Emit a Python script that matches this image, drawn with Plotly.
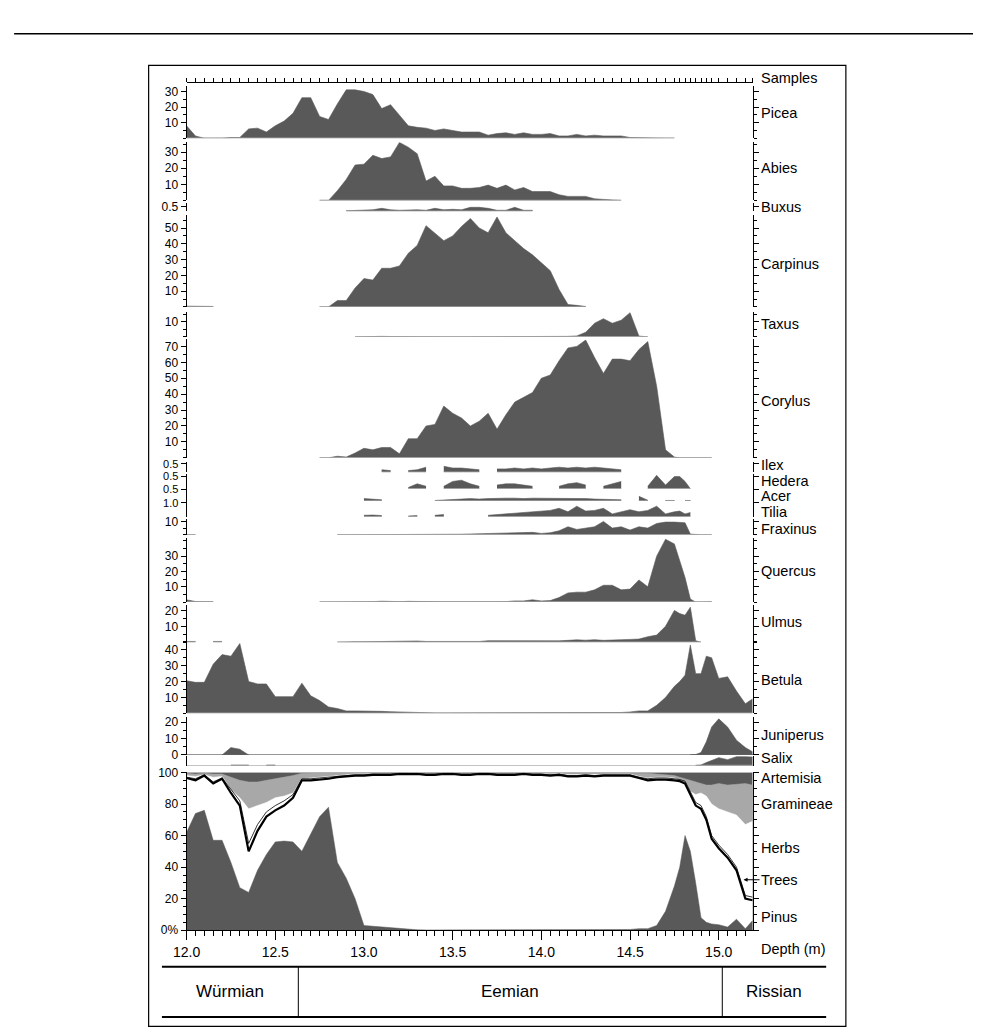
import plotly.graph_objects as go

# page is 981 x 1035; the browser keeps an 8 px body margin, so the figure is
# sized to fit the page exactly inside that margin
PAGE_W, PAGE_H = 981, 1035
MARGIN = 8
W, H = PAGE_W - 2 * MARGIN, PAGE_H - 2 * MARGIN
_ = None

# ---------------- data ----------------
depth = [12.00, 12.05, 12.10, 12.15, 12.20, 12.25, 12.30, 12.35, 12.40, 12.45,
         12.50, 12.55, 12.60, 12.65, 12.70, 12.75, 12.80, 12.85, 12.90, 12.95,
         13.00, 13.05, 13.10, 13.15, 13.20, 13.25, 13.30, 13.35, 13.40, 13.45,
         13.50, 13.55, 13.60, 13.65, 13.70, 13.75, 13.80, 13.85, 13.90, 13.95,
         14.00, 14.05, 14.10, 14.15, 14.20, 14.25, 14.30, 14.35, 14.40, 14.45,
         14.50, 14.55, 14.60, 14.65, 14.70, 14.75, 14.78, 14.81, 14.84, 14.87,
         14.90, 14.93, 14.96, 15.00, 15.05, 15.10, 15.15, 15.19]

picea = [8, 1.5, 0, 0, 0, 0.5, 0.5, 6, 6.5, 4,
         8, 11, 16, 26, 26, 14, 12, 22, 31, 31,
         30, 28, 19, 21.5, 15, 8, 7, 6.5, 5, 6,
         5, 4, 4, 4, 2, 3, 3.5, 2.5, 3.5, 2.5,
         2.5, 3, 1.5, 1.5, 2.5, 1.5, 2, 1.5, 1.5, 1.5,
         0.5, 0.3, 0.2, 0, 0, 0, _, _, _, _,
         _, _, _, _, _, _, _, _]

abies = [_, _, _, _, _, _, _, _, _, _,
         _, _, _, _, _, 0, 0, 6, 13, 22,
         22.5, 28, 26, 27, 36, 33, 29, 12, 15, 9,
         9, 7.5, 7.5, 8, 9.5, 7.5, 9.5, 6.5, 8, 5.5,
         5.5, 5.5, 3.5, 2.5, 2.5, 2.5, 1, 0.5, 0.3, 0,
         _, _, _, _, _, _, _, _, _, _,
         _, _, _, _, _, _, _, _]

buxus = [_, _, _, _, _, _, _, _, _, _,
         _, _, _, _, _, _, _, _, 0.05, 0.1,
         0.15, 0.15, 0.3, 0.15, 0.1, 0.15, 0.15, 0.1, 0.3, 0.15,
         0.2, 0.15, 0.4, 0.4, 0.3, 0.1, 0.1, 0.4, 0.1, 0.1,
         _, _, _, _, _, _, _, _, _, _,
         _, _, _, _, _, _, _, _, _, _,
         _, _, _, _, _, _, _, _]

carpinus = [0.5, 0.3, 0.5, 0.3, _, _, _, _, _, _,
            _, _, _, _, _, 0, 0, 4, 4, 12,
            18, 17, 24.5, 24.5, 26, 34, 39, 51.5, 47, 42,
            45, 51, 56, 50, 47, 57, 47, 42, 37, 33,
            28, 23, 11, 1.5, 1, 0.3, _, _, _, _,
            _, _, _, _, _, _, _, _, _, _,
            _, _, _, _, _, _, _, _]

taxus = [_, _, _, _, _, _, _, _, _, _,
         _, _, _, _, _, _, _, _, _, 0,
         0.2, 0.3, 0.3, 0.2, 0.1, 0, 0, 0, 0, 0,
         0, 0, 0, 0, 0, 0, 0, 0.2, 0, 0,
         0, 0.2, 0.2, 0.3, 0.6, 3, 9, 12, 9, 11,
         16, 0.5, 0, _, _, _, _, _, _, _,
         _, _, _, _, _, _, _, _]

corylus = [_, _, _, _, _, _, _, _, _, _,
           _, _, _, _, _, 0, 0, 1, 0.5, 3,
           6, 5, 6.5, 6.5, 2.5, 12, 12, 20, 21, 32.5,
           28, 25, 20, 23, 28, 18, 27, 35, 38, 41,
           50, 52, 61, 69, 70, 74, 63, 53, 62, 62,
           61, 68, 73, 45, 5, 0.5, 0, 0, 0, 0,
           0, 0, 0, _, _, _, _, _]

ilex = [_, _, _, _, _, _, _, _, _, _,
        _, _, _, _, _, _, _, _, _, _,
        _, _, 0.15, 0.1, _, 0.1, 0.15, 0.3, _, 0.35,
        0.25, 0.25, 0.2, 0.15, _, 0.2, 0.2, 0.25, 0.2, 0.25,
        0.2, 0.25, 0.3, 0.25, 0.3, 0.25, 0.3, 0.25, 0.2, 0.15,
        _, _, _, _, _, _, _, _, _, _,
        _, _, _, _, _, _, _, _]

hedera = [_, _, _, _, _, _, _, _, _, _,
          _, _, _, _, _, _, _, _, _, _,
          _, _, _, _, _, 0.05, 0.2, 0.1, _, 0.1,
          0.3, 0.35, 0.2, 0.1, _, 0.15, 0.2, 0.2, 0.15, 0.1,
          _, _, 0.1, 0.2, 0.25, 0.15, _, 0.1, 0.2, 0.3,
          _, _, 0.1, 0.55, 0.15, 0.5, 0.5, 0.3, 0, _,
          _, _, _, _, _, _, _, _]

acer = [_, _, _, _, _, _, _, _, _, _,
        _, _, _, _, _, _, _, _, _, _,
        0.1, 0.07, 0.05, _, _, _, _, _, 0.02, 0.05,
        0.05, 0.08, 0.1, 0.08, 0.1, 0.12, 0.12, 0.12, 0.1, 0.12,
        0.12, 0.1, 0.1, 0.12, 0.1, 0.1, 0.08, 0.06, 0.05, 0.05,
        _, 0.2, 0.03, _, 0.02, 0.02, _, 0.02, 0.02, _,
        _, _, _, _, _, _, _, _]

tilia = [_, _, _, _, _, _, _, _, _, _,
         _, _, _, _, _, _, _, _, _, _,
         0.1, 0.12, 0.08, _, _, 0.05, 0.08, _, 0.1, 0.15,
         _, _, _, _, 0.1, 0.15, 0.2, 0.3, 0.3, 0.35,
         0.4, 0.45, 0.6, 0.35, 0.75, 0.4, 0.45, 0.6, 0.2, 0.35,
         0.5, 0.35, 0.45, 0.75, 0.2, 0.35, 0.4, 0.2, 0.3, _,
         _, _, _, _, _, _, _, _]

fraxinus = [0.1, 0.1, _, _, _, _, _, _, _, _,
            _, _, _, _, _, _, _, 0, 0, 0,
            0.2, 0, 0.2, 0, 0.2, 0, 0, 0.1, 0.1, 0.3,
            0.1, 0.4, 0.6, 0.8, 0.8, 1.0, 1.2, 1.5, 2.0, 1.8,
            1.0, 1.5, 3, 6, 4, 5, 6, 10, 5, 6,
            3.5, 6, 5, 8.5, 9.5, 9.5, 9.5, 9, 0.5, 0,
            0, 0, 0, _, _, _, _, _]

quercus = [1.5, 0.4, 0.3, 0.3, _, _, _, _, _, _,
           _, _, _, _, _, 0, 0, 0.1, 0.1, 0.2,
           0.2, 0.3, 0.6, 0.3, 0.3, 0.5, 0.3, 0.2, 0.2, 0.2,
           0.2, 0.2, 0.2, 0.3, 0.5, 0.5, 0.3, 0.8, 0.8, 1.5,
           0.8, 1, 3, 6, 6.5, 6.5, 8, 11, 11, 8,
           8.5, 14.5, 10, 30, 41, 38, 27, 16, 2, 0,
           0, 0.2, 0.2, _, _, _, _, _]

ulmus = [0.5, 0.5, _, 0.5, 0.5, _, _, _, _, _,
         _, _, _, _, _, _, _, 0, 0.3, 0.3,
         0.3, 0.4, 0.4, 0.4, 0.5, 0.5, 0.8, 0.5, 0.5, 0.5,
         0.5, 0.5, 0.5, 0.5, 1, 1, 0.6, 0.8, 0.6, 0.8,
         0.7, 0.7, 0.9, 1.2, 1.5, 1.3, 1.6, 1.2, 1.2, 1.6,
         1.8, 2, 3.5, 4.5, 10, 20, 18, 17, 22, 1,
         0, _, _, _, _, _, _, _]

betula = [20.5, 19.5, 19.5, 31, 37, 36, 44, 20, 18.5, 18.5,
          10.5, 10.5, 10.5, 19, 11, 8, 4, 3, 1.5, 1.5,
          1.5, 1.5, 1.2, 1, 0.8, 0.5, 0.3, 0.2, 0.2, 0.2,
          0.2, 0.2, 0.2, 0.2, 0.2, 0.2, 0.2, 0.2, 0.2, 0.2,
          0.2, 0.2, 0.2, 0.2, 0.2, 0.2, 0.3, 0.3, 0.3, 0.5,
          0.8, 1.5, 1.5, 5, 10, 17, 20, 24, 43, 25,
          25, 36, 35, 22, 23, 14, 6, 9]

juniperus = [_, _, _, _, 0, 4.5, 3.5, 0, _, _,
             _, _, _, _, _, _, _, _, _, _,
             _, _, _, _, _, _, _, _, _, _,
             _, _, _, _, _, _, _, _, _, _,
             _, _, _, _, _, _, _, _, _, _,
             _, _, _, _, _, _, _, _, 0, 0.3,
             1.5, 8, 17, 22, 17, 9, 4.5, 2]

salix = [_, _, _, _, _, 0.2, 0.2, 0.2, _, 0.2,
         0.2, _, _, _, _, _, _, _, _, _,
         _, _, _, _, _, _, _, _, _, _,
         _, _, _, _, _, _, _, _, _, _,
         _, _, _, _, _, _, _, _, _, _,
         _, _, _, _, _, _, _, _, _, 0,
         0.3, 1.5, 2.5, 4, 3, 4.5, 4.5, 4.3]

# summary diagram: cumulative percentages of the pollen sum
pollen_sum = 100
pinus = [62, 74, 76, 57, 57, 43, 27, 24, 38, 48,
         56, 56.5, 56, 50, 61, 72, 78, 43, 33, 20,
         3, 2.5, 2, 1.5, 1, 0.5, 0.3, 0.2, 0.2, 0.2,
         0.2, 0.2, 0.2, 0.2, 0.2, 0.2, 0.2, 0.2, 0.2, 0.2,
         0.2, 0.5, 0.5, 0.5, 0.5, 0.5, 0.5, 0.5, 0.5, 0.5,
         0.5, 1, 1, 3, 12, 28, 40, 60, 50, 30,
         8, 5, 4, 3.5, 2, 7, 1, 6]
trees = [96.5, 95, 98, 93, 96, 87, 79, 50, 63, 72,
         76, 79, 84, 95, 95, 95.5, 96, 97, 97.5, 98,
         98, 98.5, 98.5, 98.5, 99, 99, 99, 98.5, 98.5, 99,
         99, 98.5, 98.5, 99, 99, 98.5, 98.5, 98.5, 99, 98.5,
         98.5, 98, 98.5, 97.5, 97.5, 98, 97.5, 98, 98, 98,
         98, 96.5, 95, 95.5, 95.5, 95, 94.5, 93, 86, 79,
         77, 70, 58, 52, 46, 38, 20, 19]
shrubs = [97, 96, 98.5, 94, 96.5, 89, 82, 55, 67, 75,
          79, 82, 86, 96, 96, 96.5, 97, 97.5, 98, 98.5,
          98.5, 99, 99, 99, 99.5, 99.5, 99.5, 99, 99, 99.5,
          99.5, 99, 99, 99.5, 99.5, 99, 99, 99, 99.5, 99,
          99, 98.5, 99, 98, 98, 98.5, 98, 98.5, 98.5, 98.5,
          98.5, 97, 96, 96.5, 96.5, 96, 95.5, 94.5, 88, 81,
          79, 72, 60, 54, 48, 40, 22, 21]
herbs = [98, 97.5, 98.5, 97, 97.5, 89, 84, 77, 79, 81,
         84, 85, 87, 96, 96.5, 97, 97.5, 98, 98.5, 99,
         99, 99.3, 99.3, 99.3, 99.6, 99.6, 99.6, 99.3, 99.3, 99.6,
         99.6, 99.3, 99.3, 99.6, 99.6, 99.3, 99.3, 99.3, 99.6, 99.3,
         99.3, 99, 99.3, 98.7, 98.7, 99, 98.7, 99, 99, 99,
         99, 97.5, 96.5, 97, 97, 96.5, 95, 93.5, 88, 86,
         87, 85, 80, 77, 75, 73, 67, 69]
gramineae = [99.5, 99, 99.5, 99, 99, 97, 95, 94, 94, 95,
             96, 97, 98, 99.5, 99.7, 99.8, 99.8, 99.8, 99.8, 99.8,
             99.8, 99.8, 99.8, 99.8, 99.8, 99.8, 99.8, 99.8, 99.8, 99.8,
             99.8, 99.8, 99.8, 99.8, 99.8, 99.8, 99.8, 99.8, 99.8, 99.8,
             99.8, 99.8, 99.8, 99.8, 99.8, 99.8, 99.8, 99.8, 99.8, 99.8,
             99.8, 99.5, 99.5, 99, 98.5, 98, 97, 96, 95, 94,
             93, 92, 92, 93, 92, 92.5, 93, 92]

period_names = ["Würmian", "Eemian", "Rissian"]
period_bounds = [12.63, 15.02]

for arr in [picea, abies, buxus, carpinus, taxus, corylus, ilex, hedera, acer, tilia,
            fraxinus, quercus, ulmus, betula, juniperus, salix, pinus, trees, shrubs,
            herbs, gramineae]:
    assert len(arr) == len(depth), len(arr)

# ---------------- geometry / style (page pixels) ----------------
X0, X1 = 175, 750
PX_PER_M = 180.0
XMAX = 12.0 + (X1 - X0) / PX_PER_M
FONT = 'Liberation Sans, Arial, Helvetica, sans-serif'
DARK = '#595959'
LIGHT = '#a8a8a8'
BASELINE = '#a0a0a0'


def px(p):
    return (p - MARGIN) / W


def py(p):
    return 1 - (p - MARGIN) / H


# name, values, base px, top px, ref value, ref px, tickvals, ticktext, minor, label size
panels = [
    ("Picea", picea, 133, 80, 30, 85.5, [10, 20, 30], None, 5, 12),
    ("Abies", abies, 196, 137, 30, 147, [10, 20, 30], None, 5, 12),
    ("Buxus", buxus, 207, 199, 0.5, 202, [0.5], None, None, 12),
    ("Carpinus", carpinus, 304, 211, 50, 224, [10, 20, 30, 40, 50], None, 5, 12),
    ("Taxus", taxus, 334.3, 309, 10, 319, [10], None, 5, 12),
    ("Corylus", corylus, 457, 337, 70, 344, [10, 20, 30, 40, 50, 60, 70], None, 5, 12),
    ("Ilex", ilex, 471.7, 461.5, 0.5, 463, [0.5], None, None, 11),
    ("Hedera", hedera, 488.3, 473.5, 0.5, 476, [0.5], None, None, 11),
    ("Acer", acer, 500.7, 487, 0.5, 489, [0.5], None, None, 11),
    ("Tilia", tilia, 516.7, 501, 1.0, 502.5, [1.0], ["1.0"], None, 11),
    ("Fraxinus", fraxinus, 535, 519, 10, 521.5, [10], None, 5, 12),
    ("Quercus", quercus, 603.3, 538, 30, 556.7, [10, 20, 30], None, 5, 12),
    ("Ulmus", ulmus, 644, 606, 20, 611.7, [10, 20], None, 5, 12),
    ("Betula", betula, 716, 642, 40, 651.7, [10, 20, 30, 40], None, 5, 12),
    ("Juniperus", juniperus, 758.3, 720, 20, 725, [0, 10, 20], None, 5, 12),
    ("Salix", salix, 769, 759, 5, 759, [], None, None, 12),
]

fig = go.Figure()
layout = {}


def yaxis_cfg(base, top, rng_top, tickvals, ticktext=None, minor=None, fsize=12):
    d = dict(domain=[py(base), py(top)], range=[0, rng_top], anchor='x',
             showline=True, linecolor='black', linewidth=1, mirror='ticks',
             ticks='outside', ticklen=5, tickwidth=1, tickcolor='black',
             tickmode='array', tickvals=tickvals,
             tickfont=dict(family=FONT, size=fsize, color='black'),
             showgrid=False, zeroline=False, fixedrange=True)
    if ticktext:
        d['ticktext'] = ticktext
    if minor:
        d['minor'] = dict(tickmode='linear', tick0=0, dtick=minor, ticks='outside',
                          ticklen=3, tickwidth=1, tickcolor='black', showgrid=False)
    return d


def segments(vals):
    segs, cur = [], []
    for d, v in zip(depth, vals):
        if v is None:
            if cur:
                segs.append(cur)
            cur = []
        else:
            cur.append((d, v))
    if cur:
        segs.append(cur)
    return segs


for i, (name, vals, base, top, ref_v, ref_p, tv, tt, mn, fs) in enumerate(panels):
    k = i + 2
    yref = f'y{k}'
    rng_top = ref_v * (base - top) / (base - ref_p)
    layout[f'yaxis{k}'] = yaxis_cfg(base, top, rng_top, tv, tt, mn, fs)
    for seg in segments(vals):
        xs = [a for a, b in seg]
        ys = [b for a, b in seg]
        fig.add_trace(go.Scatter(x=xs, y=ys, mode='lines', fill='tozeroy',
                                 fillcolor=DARK, line=dict(color=DARK, width=0.6),
                                 xaxis='x', yaxis=yref, hoverinfo='skip',
                                 showlegend=False))
        fig.add_trace(go.Scatter(x=xs, y=[0] * len(xs), mode='lines',
                                 line=dict(color=BASELINE, width=1.5),
                                 xaxis='x', yaxis=yref, hoverinfo='skip',
                                 showlegend=False))

# summary diagram (bottom panel)
layout['yaxis'] = yaxis_cfg(936, 776, 100, [0, 20, 40, 60, 80, 100],
                            ['0%', '20', '40', '60', '80', '100'], 5)
total = [pollen_sum for _d in depth]
for vals, col in [(total, DARK), (gramineae, LIGHT), (herbs, 'white'), (pinus, DARK)]:
    fig.add_trace(go.Scatter(x=depth, y=vals, mode='lines', fill='tozeroy',
                             fillcolor=col, line=dict(color=col, width=0.5),
                             xaxis='x', yaxis='y', hoverinfo='skip', showlegend=False))
fig.add_trace(go.Scatter(x=depth, y=shrubs, mode='lines',
                         line=dict(color='black', width=0.8), xaxis='x', yaxis='y',
                         hoverinfo='skip', showlegend=False))
fig.add_trace(go.Scatter(x=depth, y=trees, mode='lines',
                         line=dict(color='black', width=2.2), xaxis='x', yaxis='y',
                         hoverinfo='skip', showlegend=False))

# sample ticks axis (top)
fig.add_trace(go.Scatter(x=depth, y=[0] * len(depth), mode='markers',
                         marker=dict(opacity=0), xaxis='x2', yaxis='y',
                         hoverinfo='skip', showlegend=False))

layout['xaxis'] = dict(domain=[px(X0), px(X1)], range=[12.0, XMAX], anchor='y',
                       showline=True, linecolor='black', linewidth=1,
                       ticks='outside', ticklen=9, tickwidth=1, tickcolor='black',
                       tickmode='array', tickvals=[12.0, 12.5, 13.0, 13.5, 14.0, 14.5, 15.0],
                       ticktext=['12.0', '12.5', '13.0', '13.5', '14.0', '14.5', '15.0'],
                       minor=dict(tickmode='linear', tick0=12.0, dtick=0.05, ticks='outside',
                                  ticklen=5, tickwidth=1, tickcolor='black', showgrid=False),
                       tickfont=dict(family=FONT, size=14, color='black'),
                       showgrid=False, zeroline=False, fixedrange=True)
layout['xaxis2'] = dict(overlaying='x', anchor='free', position=py(76), side='top',
                        range=[12.0, XMAX], showline=True, linecolor='black', linewidth=1,
                        ticks='outside', ticklen=4, tickwidth=1, tickcolor='black',
                        tickmode='array', tickvals=depth, showticklabels=False,
                        showgrid=False, zeroline=False, fixedrange=True)

# ---------------- shapes ----------------
shapes = []
# page rule under the header
shapes.append(dict(type='line', xref='paper', yref='paper', x0=px(0), x1=px(PAGE_W),
                   y0=py(27), y1=py(27), line=dict(color='black', width=1.5)))
# frame
shapes.append(dict(type='rect', xref='paper', yref='paper', x0=px(136.5), x1=px(844),
                   y0=py(1033.5), y1=py(59), line=dict(color='black', width=1.2)))
# Juniperus zero line and Salix base line across the diagram
shapes.append(dict(type='line', xref='x', yref='y16', x0=12.0, x1=XMAX, y0=0, y1=0,
                   line=dict(color='#333333', width=1)))
shapes.append(dict(type='line', xref='x', yref='y17', x0=12.0, x1=XMAX, y0=0, y1=0,
                   line=dict(color='#888888', width=1.2)))
# period bar
for yy in [973, 1024]:
    shapes.append(dict(type='line', xref='paper', yref='paper', x0=px(150), x1=px(824),
                       y0=py(yy), y1=py(yy), line=dict(color='black', width=2)))
for b in period_bounds:
    shapes.append(dict(type='line', xref='x', yref='paper', x0=b, x1=b,
                       y0=py(1024), y1=py(973), line=dict(color='black', width=1)))

# ---------------- annotations ----------------
ann = []
labels = [("Samples", 72), ("Picea", 107), ("Abies", 163), ("Buxus", 202.5),
          ("Carpinus", 260.5), ("Taxus", 321), ("Corylus", 399), ("Ilex", 464),
          ("Hedera", 480), ("Acer", 496), ("Tilia", 511.5), ("Fraxinus", 529),
          ("Quercus", 572), ("Ulmus", 623), ("Betula", 682), ("Juniperus", 738.5),
          ("Salix", 761.5), ("Artemisia", 781.5), ("Gramineae", 808), ("Herbs", 853),
          ("Pinus", 923), ("Depth (m)", 955)]
for txt, yy in labels:
    ann.append(dict(text=txt, xref='paper', yref='paper', x=px(756), y=py(yy),
                    xanchor='left', yanchor='middle', showarrow=False,
                    font=dict(family=FONT, size=14.5, color='black')))
ann.append(dict(text='Trees', xref='x', yref='y', x=15.14, y=32, ax=36, ay=0,
                showarrow=True, arrowhead=2, arrowsize=0.8, arrowwidth=1,
                arrowcolor='black', standoff=0, xanchor='center',
                font=dict(family=FONT, size=14.5, color='black')))
# period names centred in their cells
cell_edges = [150, X0 + (period_bounds[0] - 12.0) * PX_PER_M,
              X0 + (period_bounds[1] - 12.0) * PX_PER_M, 824]
for j, name in enumerate(period_names):
    cx = (cell_edges[j] + cell_edges[j + 1]) / 2
    ann.append(dict(text=name, xref='paper', yref='paper', x=px(cx), y=py(998.5),
                    xanchor='center', yanchor='middle', showarrow=False,
                    font=dict(family=FONT, size=17, color='black')))

fig.update_layout(width=W, height=H, margin=dict(l=0, r=0, t=0, b=0),
                  paper_bgcolor='white', plot_bgcolor='rgba(0,0,0,0)',
                  showlegend=False, shapes=shapes, annotations=ann, **layout)

fig.write_html("out.html", config={'displayModeBar': False})
